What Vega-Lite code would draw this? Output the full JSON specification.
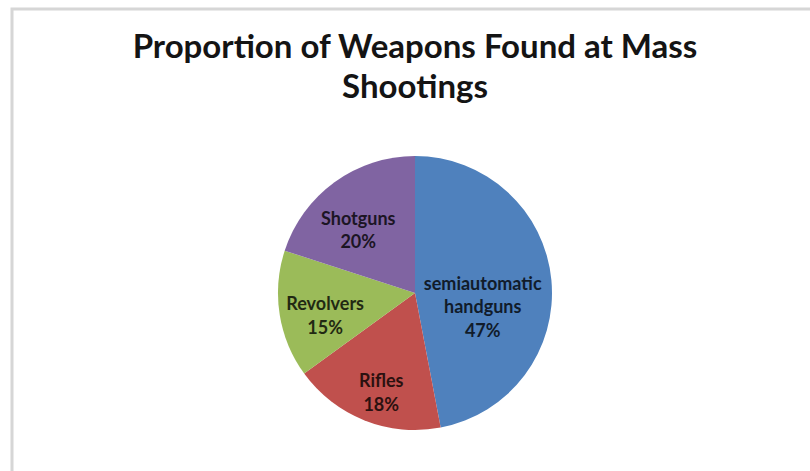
{
  "$schema": "https://vega.github.io/schema/vega-lite/v6.json",
  "autosize": {"type": "none"},
  "padding": {"left": 12, "top": 9, "right": -8, "bottom": -106},
  "width": 806,
  "height": 568,
  "background": "white",
  "view": {"stroke": "#d6d6d6", "strokeWidth": 3, "fill": "white"},
  "title": {
    "text": ["Proportion of Weapons Found at Mass", "Shootings"],
    "font": "Lato",
    "fontSize": 33,
    "fontWeight": "bold",
    "color": "#141414",
    "lineHeight": 40,
    "anchor": "middle",
    "offset": -96
  },
  "data": {
    "values": [
      {"weapon": "semiautomatic handguns", "share": 47},
      {"weapon": "Rifles", "share": 18},
      {"weapon": "Revolvers", "share": 15},
      {"weapon": "Shotguns", "share": 20}
    ]
  },
  "transform": [
    {"window": [{"op": "row_number", "as": "idx"}]},
    {"calculate": "split(datum.weapon + ' ' + datum.share + '%', ' ')", "as": "lines"}
  ],
  "encoding": {
    "theta": {"field": "share", "type": "quantitative", "stack": true},
    "order": {"field": "idx", "type": "quantitative"}
  },
  "layer": [
    {
      "mark": {"type": "arc", "outerRadius": 137},
      "encoding": {
        "color": {
          "field": "weapon",
          "type": "nominal",
          "scale": {
            "domain": ["semiautomatic handguns", "Rifles", "Revolvers", "Shotguns"],
            "range": ["#4F81BD", "#C0504D", "#9BBB59", "#8064A2"]
          },
          "legend": null
        }
      }
    },
    {
      "mark": {"type": "text", "font": "Lato", "fontSize": 18, "fontWeight": "bold", "lineHeight": 23.5, "fill": "#000000", "opacity": 0.78, "baseline": "middle", "dy": -2},
      "encoding": {
        "radius": {"value": 68},
        "text": {"condition": {"test": "datum.weapon === 'semiautomatic handguns'", "field": "lines"}, "value": ""}
      }
    },
    {
      "mark": {"type": "text", "font": "Lato", "fontSize": 18, "fontWeight": "bold", "lineHeight": 23.5, "fill": "#000000", "opacity": 0.78, "baseline": "middle", "dx": 6, "dy": -11},
      "encoding": {
        "radius": {"value": 108},
        "text": {"condition": {"test": "datum.weapon === 'Rifles'", "field": "lines"}, "value": ""}
      }
    },
    {
      "mark": {"type": "text", "font": "Lato", "fontSize": 18, "fontWeight": "bold", "lineHeight": 23.5, "fill": "#000000", "opacity": 0.78, "baseline": "middle", "dx": 1, "dy": -2},
      "encoding": {
        "radius": {"value": 92},
        "text": {"condition": {"test": "datum.weapon === 'Revolvers'", "field": "lines"}, "value": ""}
      }
    },
    {
      "mark": {"type": "text", "font": "Lato", "fontSize": 18, "fontWeight": "bold", "lineHeight": 23.5, "fill": "#000000", "opacity": 0.78, "baseline": "middle", "dx": -8, "dy": -6},
      "encoding": {
        "radius": {"value": 83},
        "text": {"condition": {"test": "datum.weapon === 'Shotguns'", "field": "lines"}, "value": ""}
      }
    }
  ],
  "config": {
    "style": {"view": {"stroke": "#d6d6d6", "strokeWidth": 3}}
  }
}
